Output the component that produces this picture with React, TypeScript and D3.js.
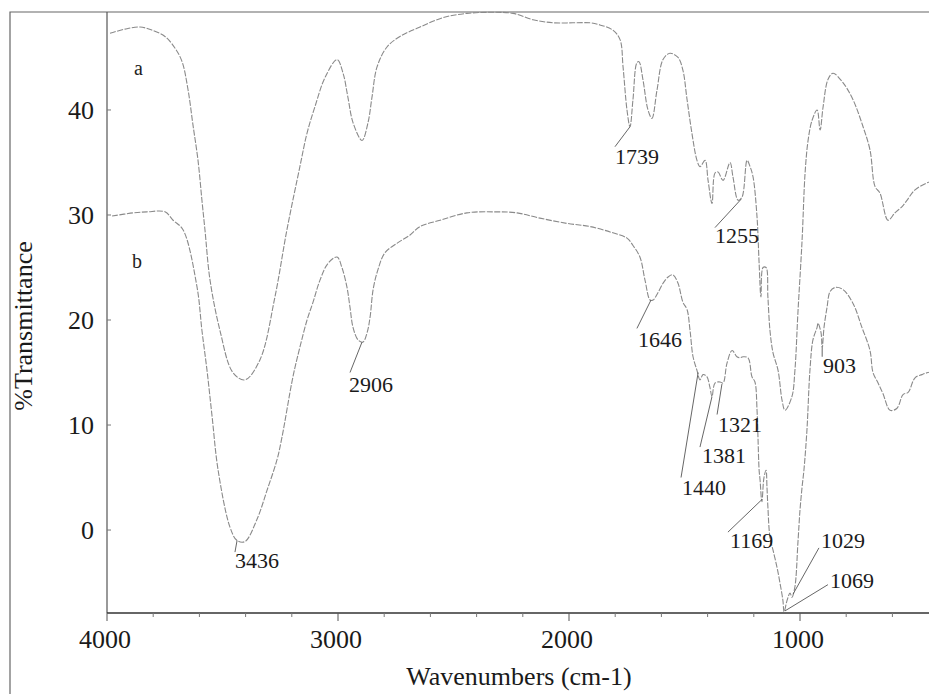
import { useEffect, useRef } from "react";
import * as d3 from "d3";

type Pt = [number, number]; // [wavenumber, %T]

// sample a (upper trace)
const spectrumA: Pt[] = [
  [3987, 47.3], [3922, 47.7], [3857, 47.9], [3805, 47.6], [3749, 47.0], [3706, 45.9],
  [3675, 44.6], [3649, 41.9], [3628, 38.6], [3606, 35.2], [3589, 31.4], [3576, 28.6],
  [3554, 23.8], [3511, 19.0], [3455, 15.0], [3403, 14.3], [3338, 16.2], [3273, 22.2],
  [3221, 28.6], [3165, 34.6], [3134, 37.8], [3100, 40.3], [3056, 43.1], [3004, 44.8],
  [2978, 43.5], [2957, 41.2], [2935, 38.8], [2896, 37.1], [2870, 38.8], [2853, 41.2],
  [2831, 44.1], [2788, 46.0], [2732, 47.0], [2645, 47.9], [2545, 48.8], [2442, 49.2],
  [2329, 49.3], [2242, 49.2], [2156, 48.6], [2069, 48.3], [1983, 48.3], [1909, 48.3],
  [1866, 48.1], [1810, 47.6], [1779, 46.7], [1766, 44.1], [1749, 40.0], [1736, 38.4],
  [1723, 41.0], [1706, 44.5], [1697, 44.6], [1680, 42.9], [1658, 40.0], [1641, 39.2],
  [1619, 41.9], [1593, 44.8], [1563, 45.4], [1528, 45.0], [1507, 43.8], [1489, 41.0],
  [1468, 37.8], [1446, 35.2], [1433, 34.6], [1411, 35.2], [1398, 33.3], [1381, 31.1],
  [1368, 34.0], [1355, 34.1], [1333, 33.3], [1303, 35.0], [1290, 33.6], [1268, 31.4],
  [1251, 31.7], [1229, 35.2], [1216, 34.6], [1203, 33.6], [1186, 29.8], [1177, 25.4],
  [1169, 22.2], [1160, 25.0], [1147, 25.0], [1139, 22.2], [1130, 19.0], [1117, 16.9],
  [1095, 15.2], [1078, 12.4], [1065, 11.4], [1035, 12.7], [1022, 15.2], [1009, 20.7],
  [991, 27.6], [978, 34.0], [965, 37.1], [948, 39.0], [926, 40.0], [913, 38.1],
  [900, 40.3], [879, 42.9], [857, 43.5], [814, 42.6], [771, 41.0], [727, 38.4],
  [697, 36.2], [675, 32.7], [654, 32.1], [619, 29.5], [589, 30.2], [558, 30.8],
  [537, 31.4], [502, 32.4], [446, 33.1], [394, 33.5],
];

// sample b (lower trace)
const spectrumB: Pt[] = [
  [3978, 29.9], [3887, 30.2], [3827, 30.3], [3749, 30.3], [3714, 29.5], [3671, 28.6],
  [3610, 23.1], [3589, 19.0], [3567, 15.2], [3545, 10.8], [3519, 5.7], [3468, 0.3],
  [3437, -1.0], [3403, -1.1], [3351, 1.0], [3307, 3.8], [3264, 6.7], [3242, 8.9],
  [3195, 14.6], [3165, 17.4], [3134, 20.0], [3108, 21.7], [3078, 23.8], [3043, 25.4],
  [3004, 26.0], [2983, 25.0], [2961, 23.1], [2948, 21.2], [2935, 19.3], [2913, 18.1],
  [2892, 17.9], [2874, 18.8], [2861, 20.3], [2848, 22.9], [2827, 24.8], [2797, 26.4],
  [2745, 27.3], [2688, 28.1], [2645, 28.9], [2558, 29.5], [2442, 30.2], [2320, 30.3],
  [2225, 30.2], [2126, 29.7], [2009, 29.2], [1909, 28.9], [1810, 28.3], [1749, 27.8],
  [1723, 27.1], [1693, 26.0], [1671, 23.8], [1649, 21.9], [1636, 21.9], [1615, 22.6],
  [1593, 23.5], [1571, 24.1], [1550, 24.3], [1528, 23.5], [1507, 21.7], [1489, 21.0],
  [1476, 19.0], [1463, 16.5], [1446, 15.2], [1433, 14.3], [1420, 14.8], [1403, 14.6],
  [1390, 13.6], [1381, 12.7], [1368, 14.0], [1346, 14.1], [1333, 14.0], [1316, 15.9],
  [1294, 17.1], [1273, 16.5], [1260, 16.4], [1247, 16.5], [1225, 16.4], [1208, 14.6],
  [1195, 14.1], [1186, 11.4], [1182, 8.9], [1177, 5.7], [1173, 4.8], [1165, 2.7],
  [1156, 5.0], [1147, 5.7], [1143, 4.1], [1139, 2.2], [1130, -0.7], [1117, -1.9],
  [1100, -3.5], [1087, -5.0], [1074, -6.7], [1069, -7.8], [1056, -6.7], [1043, -6.0],
  [1035, -6.4], [1022, -5.4], [1009, -1.2], [1000, 1.9], [991, 4.1], [983, 5.7],
  [970, 9.5], [957, 15.2], [944, 18.1], [926, 19.3], [922, 19.7], [909, 18.8],
  [904, 17.3], [896, 19.3], [883, 21.2], [870, 22.7], [848, 23.1], [814, 22.9],
  [771, 21.6], [732, 19.3], [697, 17.1], [684, 15.0], [662, 14.0], [641, 13.0],
  [610, 11.4], [580, 11.6], [554, 12.9], [532, 13.1], [502, 14.5], [472, 14.8],
  [446, 15.0], [394, 15.2],
];

const xTicks = [4000, 3000, 2000, 1000];
const xMinorTicks = [3800, 3600, 3400, 3200, 2800, 2600, 2400, 2200, 1800, 1600, 1400, 1200, 800, 600];
const yTicks = [0, 10, 20, 30, 40];

// peak labels: the band, the leader-line end, and the text anchor (all in data units)
const peakLabels: { label: string; peak: Pt; end: Pt; text: Pt }[] = [
  { label: "1739", peak: [1736, 38.4], end: [1801, 36.5], text: [1801, 34.9] },
  { label: "1255", peak: [1255, 31.5], end: [1368, 28.8], text: [1368, 27.3] },
  { label: "1646", peak: [1645, 21.9], end: [1706, 19.2], text: [1701, 17.4] },
  { label: "2906", peak: [2896, 17.9], end: [2948, 15.0], text: [2952, 13.1] },
  { label: "3436", peak: [3437, -1.0], end: [3446, -2.1], text: [3446, -3.6] },
  { label: "1440", peak: [1441, 15.0], end: [1515, 5.0], text: [1511, 3.3] },
  { label: "1381", peak: [1381, 12.7], end: [1433, 7.9], text: [1424, 6.4] },
  { label: "1321", peak: [1338, 13.9], end: [1359, 11.0], text: [1355, 9.3] },
  { label: "1169", peak: [1165, 2.9], end: [1312, -0.2], text: [1303, -1.7] },
  { label: "1029", peak: [1030, -6.1], end: [918, -1.7], text: [909, -1.7] },
  { label: "1069", peak: [1065, -7.7], end: [879, -5.2], text: [870, -5.5] },
  { label: "903", peak: [904, 17.3], end: [904, 16.5], text: [900, 15.0] },
];

const traceNames: { label: string; at: Pt }[] = [
  { label: "a", at: [3883, 43.3] },
  { label: "b", at: [3892, 25.0] },
];

const FONT = "'Liberation Serif', 'Times New Roman', serif";

export default function App() {
  const svgRef = useRef<SVGSVGElement>(null);

  useEffect(() => {
    if (!svgRef.current) return;
    const width = 929;
    const height = 694;

    const svg = d3.select(svgRef.current).attr("width", width).attr("height", height);
    svg.selectAll("*").remove();

    const x = d3.scaleLinear().domain([4000, 400]).range([107, 938.6]);
    const y = d3.scaleLinear().domain([-7.9, 49.33]).range([613, 12]);

    const left = x(4000);
    const bottom = y(-7.9);
    const top = y(49.33);

    svg.append("rect").attr("width", width).attr("height", height).attr("fill", "#fff");

    // outer frame
    svg.append("path")
      .attr("d", `M10,${height} L10,${top} L${width},${top}`)
      .attr("fill", "none")
      .attr("stroke", "#666")
      .attr("stroke-width", 1.2);

    // axes
    svg.append("line")
      .attr("x1", left).attr("x2", left).attr("y1", top).attr("y2", bottom)
      .attr("stroke", "#555").attr("stroke-width", 1.2);
    svg.append("line")
      .attr("x1", left).attr("x2", width).attr("y1", bottom).attr("y2", bottom)
      .attr("stroke", "#333").attr("stroke-width", 1.3);

    // x ticks
    svg.selectAll(".xmajor")
      .data(xTicks)
      .join("line")
      .attr("x1", (d) => x(d)).attr("x2", (d) => x(d))
      .attr("y1", bottom).attr("y2", bottom + 8)
      .attr("stroke", "#555");
    svg.selectAll(".xminor")
      .data(xMinorTicks)
      .join("line")
      .attr("x1", (d) => x(d)).attr("x2", (d) => x(d))
      .attr("y1", bottom).attr("y2", bottom + 4)
      .attr("stroke", "#777");
    svg.selectAll(".xlabel")
      .data(xTicks)
      .join("text")
      .attr("x", (d) => x(d) - 2)
      .attr("y", bottom + 35)
      .attr("text-anchor", "middle")
      .style("font-family", FONT)
      .style("font-size", "26px")
      .attr("fill", "#1a1a1a")
      .text((d) => String(d));

    // y ticks
    svg.selectAll(".ytick")
      .data(yTicks)
      .join("line")
      .attr("x1", left).attr("x2", left + 4)
      .attr("y1", (d) => y(d)).attr("y2", (d) => y(d))
      .attr("stroke", "#777");
    svg.selectAll(".ylabel")
      .data(yTicks)
      .join("text")
      .attr("x", 94)
      .attr("y", (d) => y(d))
      .attr("dy", "0.35em")
      .attr("text-anchor", "end")
      .style("font-family", FONT)
      .style("font-size", "26px")
      .attr("fill", "#1a1a1a")
      .text((d) => String(d));

    // axis titles
    svg.append("text")
      .attr("x", 519)
      .attr("y", 685)
      .attr("text-anchor", "middle")
      .style("font-family", FONT)
      .style("font-size", "26px")
      .attr("fill", "#1a1a1a")
      .text("Wavenumbers (cm-1)");
    svg.append("text")
      .attr("transform", "translate(32,326) rotate(-90)")
      .attr("text-anchor", "middle")
      .style("font-family", FONT)
      .style("font-size", "26px")
      .attr("fill", "#1a1a1a")
      .text("%Transmittance");

    // spectra
    const line = d3
      .line<Pt>()
      .x((d) => x(d[0]))
      .y((d) => y(d[1]))
      .curve(d3.curveCatmullRom.alpha(0.5));

    svg.selectAll(".trace")
      .data([spectrumA, spectrumB])
      .join("path")
      .attr("d", (d) => line(d))
      .attr("fill", "none")
      .attr("stroke", "#8a8a8a")
      .attr("stroke-width", 1.1)
      .attr("stroke-dasharray", "6 1.5");

    svg.selectAll(".tracename")
      .data(traceNames)
      .join("text")
      .attr("x", (d) => x(d.at[0]))
      .attr("y", (d) => y(d.at[1]))
      .style("font-family", FONT)
      .style("font-size", "20px")
      .attr("fill", "#222")
      .text((d) => d.label);

    // peak annotations
    svg.selectAll(".leader")
      .data(peakLabels)
      .join("line")
      .attr("x1", (d) => x(d.peak[0])).attr("y1", (d) => y(d.peak[1]))
      .attr("x2", (d) => x(d.end[0])).attr("y2", (d) => y(d.end[1]))
      .attr("stroke", "#555")
      .attr("stroke-width", 0.9);
    svg.selectAll(".peaklabel")
      .data(peakLabels)
      .join("text")
      .attr("x", (d) => x(d.text[0]))
      .attr("y", (d) => y(d.text[1]))
      .style("font-family", FONT)
      .style("font-size", "22px")
      .attr("fill", "#1a1a1a")
      .text((d) => d.label);
  }, []);

  return (
    <svg
      ref={svgRef}
      style={{ position: "absolute", left: 0, top: 0, display: "block" }}
    />
  );
}
